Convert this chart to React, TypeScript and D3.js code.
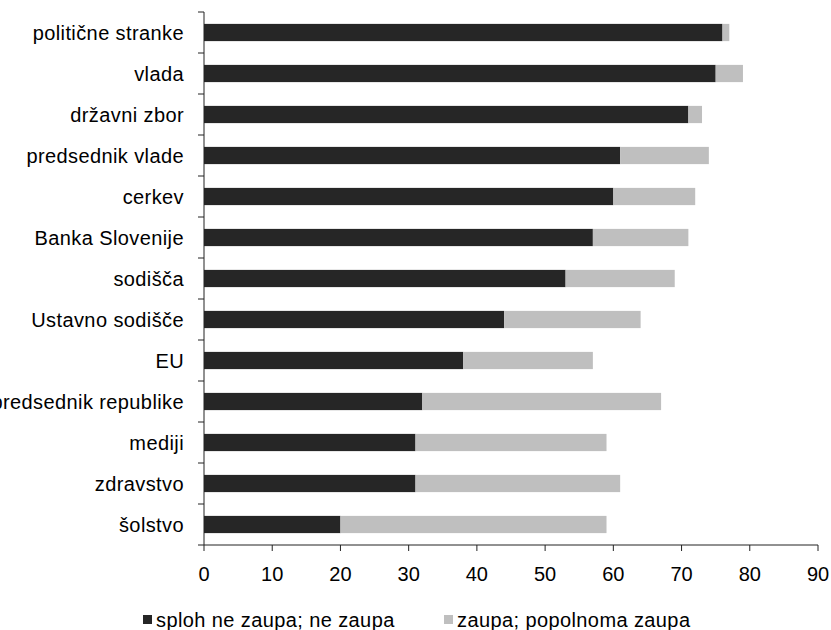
import React from "react";
import * as d3 from "d3";

const categories = [
  "politične stranke",
  "vlada",
  "državni zbor",
  "predsednik vlade",
  "cerkev",
  "Banka Slovenije",
  "sodišča",
  "Ustavno sodišče",
  "EU",
  "predsednik republike",
  "mediji",
  "zdravstvo",
  "šolstvo",
];

// share who distrust (dark) and who trust (light), in percent
const distrust = [76, 75, 71, 61, 60, 57, 53, 44, 38, 32, 31, 31, 20];
const trust = [1, 4, 2, 13, 12, 14, 16, 20, 19, 35, 28, 30, 39];

const seriesNames = ["sploh ne zaupa; ne zaupa", "zaupa; popolnoma zaupa"];
const seriesColors = ["#262626", "#bfbfbf"];
const xTicks = [0, 10, 20, 30, 40, 50, 60, 70, 80, 90];

const W = 831;
const H = 630;
const left = 204;
const right = 818;
const top = 12;
const bottom = 545;
const font = "'Liberation Sans', Arial, sans-serif";

export default function App() {
  const x = d3.scaleLinear().domain([0, 90]).range([left, right]);
  const y = d3
    .scaleBand<string>()
    .domain(categories)
    .range([top, bottom])
    .paddingInner(0.58)
    .paddingOuter(0.29);
  const step = y.step();

  const rows = categories.map((c, i) => ({ c, a: distrust[i], b: trust[i] }));
  const stacked = d3.stack<any>().keys(["a", "b"])(rows);

  return (
    <svg
      width={W}
      height={H}
      style={{ position: "absolute", left: 0, top: 0, background: "#fff" }}
      fontFamily={font}
    >
      {stacked.map((layer, li) =>
        layer.map((d, i) => (
          <rect
            key={`${li}-${i}`}
            x={x(d[0])}
            y={y(categories[i])}
            width={x(d[1]) - x(d[0])}
            height={y.bandwidth()}
            fill={seriesColors[li]}
          />
        ))
      )}

      {/* category axis */}
      <line x1={left} x2={left} y1={top} y2={bottom} stroke="#222" strokeWidth={1} />
      {d3.range(categories.length + 1).map((i) => (
        <line
          key={i}
          x1={left - 6}
          x2={left}
          y1={top + i * step}
          y2={top + i * step}
          stroke="#222"
        />
      ))}
      {categories.map((c) => (
        <text
          key={c}
          x={184}
          y={(y(c) as number) + y.bandwidth() / 2}
          dy="0.36em"
          textAnchor="end"
          fontSize={20}
          letterSpacing={0.4}
          fill="#000"
        >
          {c}
        </text>
      ))}

      {/* value axis */}
      <line x1={left} x2={right} y1={bottom} y2={bottom} stroke="#222" />
      {xTicks.map((t) => (
        <g key={t}>
          <line x1={x(t)} x2={x(t)} y1={bottom} y2={bottom + 6} stroke="#222" />
          <text x={x(t)} y={581} textAnchor="middle" fontSize={20} fill="#000">
            {t}
          </text>
        </g>
      ))}

      {/* legend */}
      {seriesNames.map((n, i) => {
        const lx = [143, 444][i];
        return (
          <g key={n}>
            <rect x={lx} y={615} width={9} height={9} fill={seriesColors[i]} />
            <text x={lx + 13} y={627} fontSize={20} letterSpacing={0.4} fill="#000">
              {n}
            </text>
          </g>
        );
      })}
    </svg>
  );
}
